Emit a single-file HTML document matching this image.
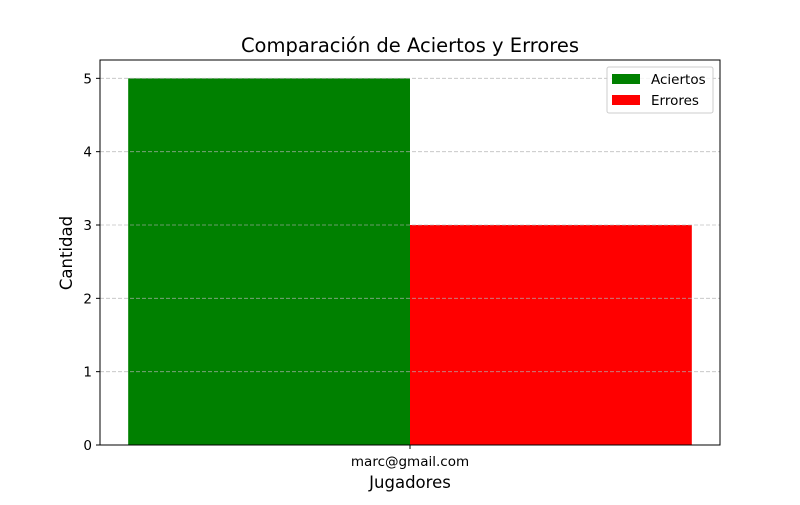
<!DOCTYPE html>
<html><head><meta charset="utf-8"><style>
body{margin:0;background:#fff}
svg text{font-family:"DejaVu Sans","Liberation Sans",sans-serif}
</style></head><body>
<svg id="c" width="800" height="500" xmlns="http://www.w3.org/2000/svg">
<rect width="800" height="500" fill="#fff"/>
<g id="bars"></g><g id="grid"></g><g id="axes"></g>
<text x="410" y="52" text-anchor="middle" font-size="19.5" fill="#000">Comparación de Aciertos y Errores</text>
<text x="410" y="488" text-anchor="middle" font-size="16.5" fill="#000">Jugadores</text>
<text transform="translate(72,253) rotate(-90)" text-anchor="middle" font-size="16.5" fill="#000">Cantidad</text>
<g>
<rect x="607" y="67" width="106" height="46" rx="2" fill="#fff" fill-opacity="0.8" stroke="#ccc"/>
<rect x="612" y="74" width="28" height="10" fill="green"/>
<text x="651" y="84" font-size="13.5">Aciertos</text>
<rect x="612" y="95" width="28" height="10" fill="red"/>
<text x="651" y="105" font-size="13.5">Errores</text>
</g>
</svg>
<script>
const categories=["marc@gmail.com"];
const aciertos=[5];
const errores=[3];
const yTicks=[0,1,2,3,4,5];
const NS="http://www.w3.org/2000/svg";
const L=100,R=720,T=60,B=445,W=0.35;
const ymax=5.25;
const ys=v=>B-(v/ymax)*(B-T);
const xmax=(categories.length-1)+W*1.1;
const xs=v=>L+(v-(-W*1.1))/(xmax-(-W*1.1))*(R-L);
function mk(t,a,p){const e=document.createElementNS(NS,t);for(const k in a)e.setAttribute(k,a[k]);p.appendChild(e);return e;}
const grid=document.getElementById('grid'),bars=document.getElementById('bars'),axes=document.getElementById('axes');
yTicks.forEach(t=>{
 const y=ys(t);
 const g=mk('line',{x1:L,x2:R,y1:y,y2:y,stroke:'#b0b0b0','stroke-dasharray':'4,2','stroke-width':0.8,'stroke-opacity':0.8},grid);
 
 
 mk('line',{x1:L-4,x2:L,y1:y,y2:y,stroke:'#000'},axes);
 const tx=mk('text',{x:L-8,y:y+5,'text-anchor':'end','font-size':13.5},axes);
 tx.textContent=t;
 
 
});
categories.forEach((c,i)=>{
 const r1=mk('rect',{x:xs(i-W),y:ys(aciertos[i]),width:xs(i)-xs(i-W),height:B-ys(aciertos[i]),fill:'green'},bars);
 
 
 const r2=mk('rect',{x:xs(i),y:ys(errores[i]),width:xs(i+W)-xs(i),height:B-ys(errores[i]),fill:'red'},bars);
 
 
 mk('line',{x1:xs(i),x2:xs(i),y1:B,y2:B+4,stroke:'#000'},axes);
 const tx=mk('text',{x:xs(i),y:B+21,'text-anchor':'middle','font-size':13.5},axes);
 tx.textContent=c;
 
 
});
const fr=mk('rect',{x:L,y:T,width:R-L,height:B-T,fill:'none',stroke:'#000','stroke-width':1},axes);


</script>
</body></html>
